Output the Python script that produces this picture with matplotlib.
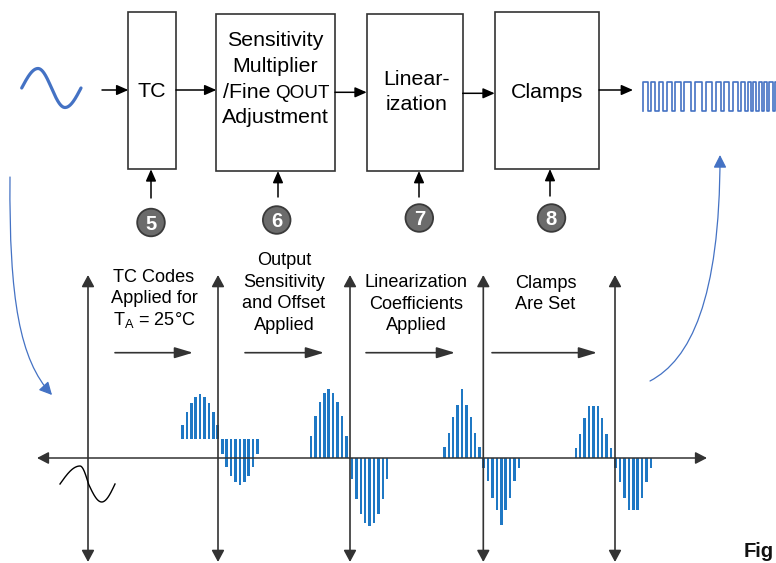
import numpy as np
import matplotlib
matplotlib.use('Agg')
import matplotlib.pyplot as plt
from matplotlib.patches import Rectangle, Circle, FancyArrowPatch
from matplotlib.path import Path

plt.rcParams['font.family'] = ['Liberation Sans', 'DejaVu Sans']

# ---------------- data ----------------
block_labels = [["TC"], ["Sensitivity", "Multiplier", "/Fine QOUT", "Adjustment"],
                ["Linear-", "ization"], ["Clamps"]]
step_numbers = ["5", "6", "7", "8"]
stage_labels = [["TC Codes", "Applied for", r"T$_\mathregular{A}$ = 25°C"],
                ["Output", "Sensitivity", "and Offset", "Applied"],
                ["Linearization", "Coefficients", "Applied"],
                ["Clamps", "Are Set"]]

# bar heights (pixels) of each sampled waveform, positive half then negative half
g1_pos = [14, 27, 36, 42, 45, 42, 36, 27, 14]
g1_neg = [15, 28, 37, 43, 46, 43, 37, 28, 15]
g2_pos = [22, 42, 56, 65, 69, 65, 56, 42, 22]
g2_neg = [21, 41, 56, 65, 68, 65, 56, 41, 21]
g3_pos = [11, 25, 41, 53, 69, 53, 41, 25, 11]
g3_neg = [10, 23, 40, 52, 67, 52, 40, 23, 10]
g4_pos = [10, 24, 40, 52, 52, 52, 40, 24, 10]
g4_neg = [10, 24, 40, 52, 52, 52, 40, 24, 10]
group_offsets = [19, 0, 0, 0]

# output pulse train edges (x positions of transitions)
pulse_edges = [642.7, 647.7, 651, 655.3, 658.7, 663.3, 666.7, 671.7, 675.3, 681,
               684.3, 691, 695.3, 701.7, 706, 712, 716, 721, 724.3, 729.3,
               733.3, 737.7, 741, 744.7, 747.7, 751, 753.3, 756.3, 758.7, 761.7,
               764, 767, 769.3, 772.7, 775, 778]

# ---------------- layout ----------------
BLUE = '#1f78c4'
LBLUE = '#4472C4'
DARK = '#333333'

fig = plt.figure(figsize=(7.76, 5.63), dpi=100)
ax = fig.add_axes([0, 0, 1, 1])
ax.set_xlim(0, 776)
ax.set_ylim(563, 0)
ax.axis('off')


def arrow(p0, p1, style='-|>,head_length=0.5,head_width=0.22', ms=14, lw=1.1,
          color='black', z=3):
    a = FancyArrowPatch(p0, p1, arrowstyle=style, mutation_scale=ms, lw=lw,
                        color=color, shrinkA=0, shrinkB=0, zorder=z)
    ax.add_patch(a)


# blocks
boxes = [(128.3, 12.3, 176, 169.3), (216.3, 14, 335, 171),
         (366.7, 14, 462.7, 171), (494.7, 12.3, 599, 169)]
block_baselines = [[97.3], [45.7, 72.0, 97.7, 123.3], [85.0, 110.5], [97.7]]
block_cx = [152.2, 275.5, 416.5, 546.8]
for (x0, y0, x1, y1), labs, bls, cx in zip(boxes, block_labels, block_baselines, block_cx):
    ax.add_patch(Rectangle((x0, y0), x1 - x0, y1 - y0, fc='white', ec=DARK, lw=1.2, zorder=2))
    for t, b in zip(labs, bls):
        if t.startswith("/Fine"):
            first, second = t.split(" ", 1)
            ax.text(222.7, b, first, ha='left', va='baseline', fontsize=15.4, zorder=4)
            ax.text(275.0, b, second, ha='left', va='baseline', fontsize=13.6, zorder=4)
        else:
            ax.text(cx, b, t, ha='center', va='baseline', fontsize=15.4, zorder=4)

# flow arrows between blocks
flow = [((102, 90), (128.3, 90)), ((176, 90), (216.3, 90)),
        ((335, 92.3), (366.7, 92.3)), ((462.7, 93.3), (494.7, 93.3)),
        ((599, 90), (633, 90))]
for p0, p1 in flow:
    arrow(p0, p1)

# step circles and arrows
arrow_x = [151, 278, 419, 550]
arrow_y = [(198, 169.3), (197, 171), (197, 171), (196, 169)]
circ = [(151, 222.5), (276.7, 220), (419.3, 218), (551.5, 218)]
for ax_, (ya, yb), (cx, cy), n in zip(arrow_x, arrow_y, circ, step_numbers):
    arrow((ax_, ya), (ax_, yb))
    ax.add_patch(Circle((cx, cy), 13.8, fc='#6b6b6b', ec='#3a3a3a', lw=1.3, zorder=3))
    ax.text(cx, cy + 7.0, n, ha='center', va='baseline', fontsize=14.5,
            fontweight='bold', color='white', zorder=4)

# input sine icon
in_phase_x = [21.7, 38, 51.5, 65, 81]
xs = np.linspace(21.7, 81, 200)
ph = np.interp(xs, in_phase_x, np.linspace(0, 2 * np.pi, 5))
ax.plot(xs, 88 - 19.5 * np.sin(ph), color=LBLUE, lw=2.3, solid_capstyle='round')

# output pulse train
px, py = [], []
hi, lo = 82, 111
level = lo
for e in pulse_edges:
    px += [e, e]
    py += [level, hi if level == lo else lo]
    level = hi if level == lo else lo
ax.plot(px, py, color=LBLUE, lw=1.2, clip_on=True)

# curved blue arrows
p_left = Path([(10, 177), (9, 300), (20, 360), (52, 395)],
              [Path.MOVETO, Path.CURVE4, Path.CURVE4, Path.CURVE4])
ax.add_patch(FancyArrowPatch(path=p_left, arrowstyle='-|>,head_length=0.55,head_width=0.28',
                             mutation_scale=14, lw=0.9, color=LBLUE))
p_right = Path([(650, 381), (690, 360), (720, 300), (720, 155)],
               [Path.MOVETO, Path.CURVE4, Path.CURVE4, Path.CURVE4])
ax.add_patch(FancyArrowPatch(path=p_right, arrowstyle='-|>,head_length=0.55,head_width=0.28',
                             mutation_scale=14, lw=0.9, color=LBLUE))

# horizontal axis
AXIS_Y = 458
arrow((37, AXIS_Y), (707, AXIS_Y), style='<|-|>,head_length=0.5,head_width=0.26',
      lw=1.1, color=DARK, z=2)

# vertical axes
vx = [88, 218, 350, 483.3, 615]
for x in vx:
    arrow((x, 562), (x, 275), style='<|-|>,head_length=0.5,head_width=0.27',
          lw=1.2, color=DARK, z=2)

# small black sine at origin
s_phase_x = [60, 80, 88.5, 101.7, 115]
xs = np.linspace(60, 115, 200)
ph = np.interp(xs, s_phase_x, np.linspace(0, 2 * np.pi, 5))
ax.plot(xs, 484 - 18 * np.sin(ph), color='black', lw=1.0)

# stage labels and arrows
stage_cx = [154, 284, 416, 545.5]
stage_baselines = [[281.7, 303.3, 325.0], [265.0, 287.3, 308.3, 330.0],
                   [287.3, 309.0, 330.0], [288.3, 309.3]]
for labs, bls, cx in zip(stage_labels, stage_baselines, stage_cx):
    for t, b in zip(labs, bls):
        ax.text(cx, b, t, ha='center', va='baseline', fontsize=13.1, zorder=4)
stage_arrows = [(115, 193), (245, 324), (366, 455), (492, 597)]
for a0, a1 in stage_arrows:
    arrow((a0, 352.7), (a1, 352.7), style='-|>,head_length=0.8,head_width=0.24',
          lw=1.2, color=DARK)

# sampled waveform bars
groups = [(g1_pos, g1_neg), (g2_pos, g2_neg), (g3_pos, g3_neg), (g4_pos, g4_neg)]
anchors = [(-0.3, 4.3), (-3.7, 2.0), (-3.7, 0.4), (-4.0, 0.7)]
STEP = 4.4
for (pos, neg), x0, (pa, na), off in zip(groups, vx[1:], anchors, group_offsets):
    base = AXIS_Y - off
    n = len(pos)
    xp = [x0 + pa - (n - 1 - i) * STEP for i in range(n)]
    xn = [x0 + na + j * STEP for j in range(len(neg))]
    ax.bar(xp, [-h for h in pos], bottom=base, width=2.5, color=BLUE, zorder=1)
    ax.bar(xn, neg, bottom=base, width=2.5, color=BLUE, zorder=1)

# caption fragment at the right edge
ax.text(744, 557.3, "Fig", ha='left', va='baseline', fontsize=14.5,
        fontweight='bold', color='#111111')

fig.savefig('out.png', dpi=100)
